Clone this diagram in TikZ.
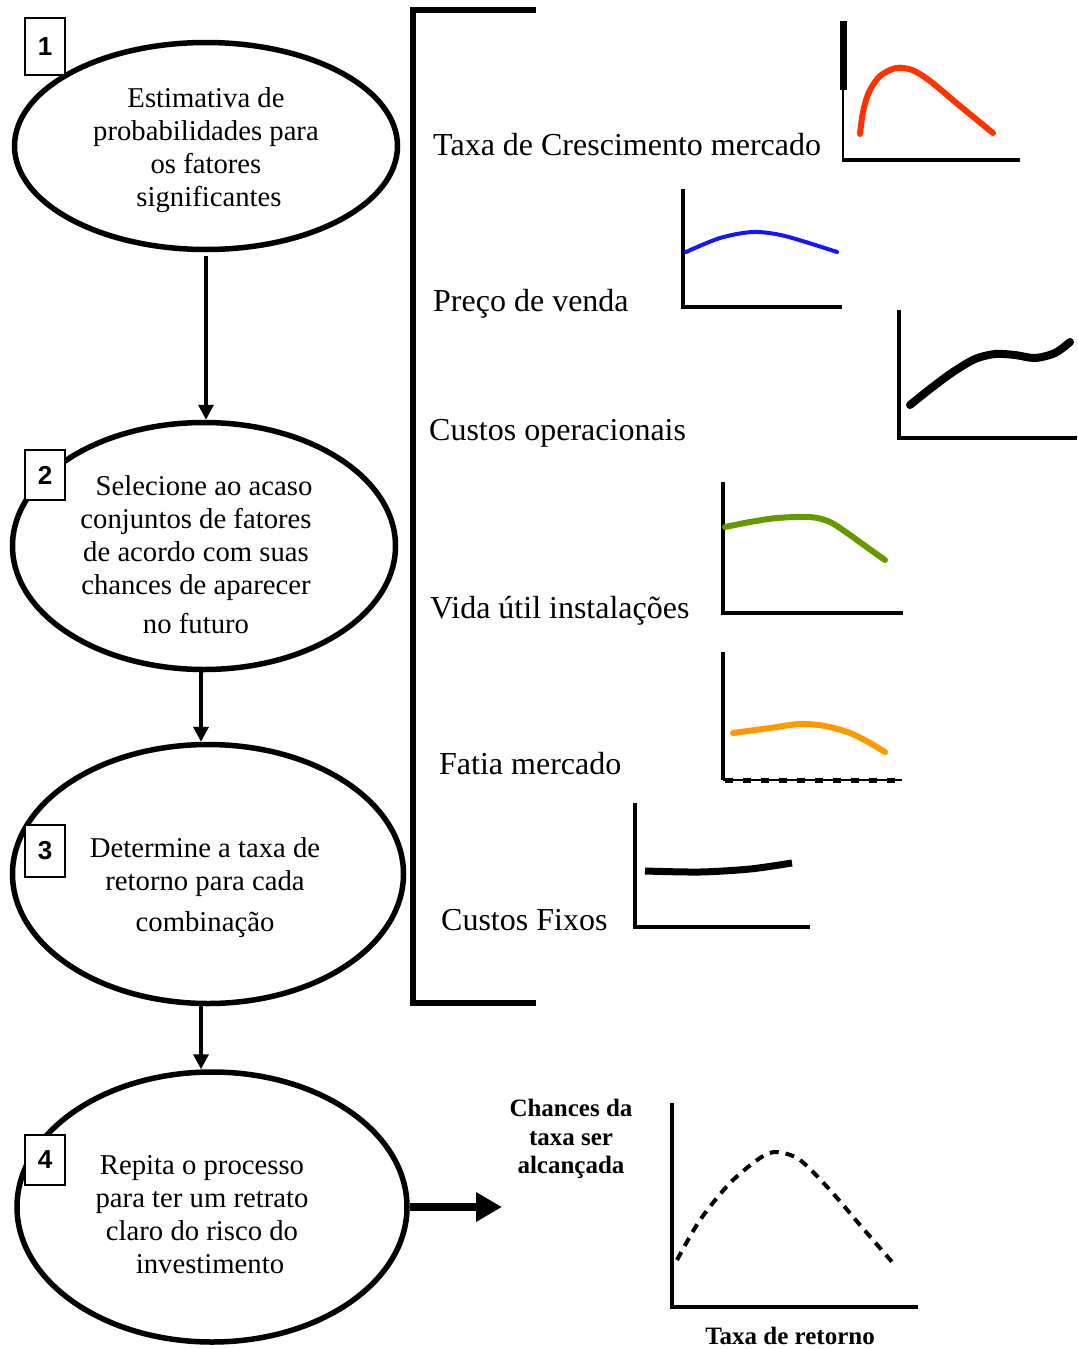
\documentclass[tikz,border=0pt]{standalone}
\usepackage{fontspec}
\setmainfont{Liberation Serif}
\newfontfamily\numfont{Liberation Sans}
\usetikzlibrary{shapes.geometric,arrows.meta}

\definecolor{redc}{RGB}{255,51,0}
\definecolor{bluec}{RGB}{20,20,255}
\definecolor{greenc}{RGB}{102,153,0}
\definecolor{orangec}{RGB}{255,153,0}

\begin{document}
\begin{tikzpicture}[x=1pt,y=-1pt,
  stage/.style={draw, ellipse, line width=5.5pt, inner sep=0pt},
  stagetext/.style={align=center, inner sep=0pt, font=\fontsize{28.7}{33}\selectfont},
  numbox/.style={draw, fill=white, line width=2pt, minimum width=40pt, inner sep=0pt,
                 font=\numfont\bfseries\fontsize{26}{26}\selectfont},
  flow/.style={line width=3.5pt, -{Triangle[length=15pt,width=15pt]}},
  bigflow/.style={line width=8pt, -{Triangle[length=26pt,width=28pt]}},
  factor/.style={anchor=base west, inner sep=0pt, font=\fontsize{32}{36}\selectfont},
  chartaxis/.style={line width=4pt},
  trend/.style={line width=6pt, line cap=round, line join=round},
  boldlabel/.style={inner sep=0pt, align=center, font=\bfseries\fontsize{25}{28.5}\selectfont}
]
\useasboundingbox (0,0) rectangle (1077,1349);

% stages of the simulation
\node[stage, minimum width=383, minimum height=207] (e1) at (206,146) {};
\node[stage, minimum width=383, minimum height=247] (e2) at (204,546) {};
\node[stage, minimum width=391, minimum height=259] (e3) at (208,874) {};
\node[stage, minimum width=390, minimum height=270] (e4) at (212,1207) {};

\node[stagetext] (t1) at (206,150) {Estimativa de\hspace{12pt}\\probabilidades para\\os fatores\hspace{6pt}\\\hspace{6pt}significantes};
\node[stagetext] (t2) at (196,555) {\hspace{16pt}Selecione ao acaso\\conjuntos de fatores\\de acordo com suas\\chances de aparecer\\[6pt]no futuro};
\node[stagetext] (t3) at (205,888) {Determine a taxa de\\retorno para cada\\[8pt]combinação};
\node[stagetext] (t4) at (202,1215) {Repita o processo\hspace{10pt}\\para ter um retrato\\claro do risco do\\\hspace{16pt}investimento};

% step numbers
\node[numbox, minimum height=57] (n1) at (45,46.5) {1};
\node[numbox, minimum height=50] (n2) at (45,475) {2};
\node[numbox, minimum height=52] (n3) at (45,851) {3};
\node[numbox, minimum height=50] (n4) at (45,1160) {4};

% flow between the stages
\draw[flow] ([yshift=-4pt]e1.south) -- (e1.south |- e2.north);
\draw[flow] ([xshift=-3pt]e2.south) -- ([xshift=-3pt]e2.south |- e3.north);
\draw[flow] ([xshift=-7pt]e3.south) -- ([xshift=-7pt]e3.south |- e4.north);
\coordinate (res) at (502,1207);
\draw[bigflow] (e4.east) -- (res);

% bracket grouping the factors
\draw[line width=6pt] (536,10) -- (413,10) -- (413,1003) -- (536,1003);

% factor names
\node[factor] (f1) at (433,155) {Taxa de Crescimento mercado};
\node[factor] (f2) at (433,311) {Preço de venda};
\node[factor] (f3) at (429,440) {Custos operacionais};
\node[factor] (f4) at (430,618) {Vida útil instalações};
\node[factor] (f5) at (439,774) {Fatia mercado};
\node[factor] (f6) at (441,930) {Custos Fixos};

% market growth
\draw[line width=7pt] (843,21) -- (843,90);
\draw[line width=2.5pt] (843,90) -- (843,160);
\draw[chartaxis] (841.5,160) -- (1020,160);
\draw[trend, redc] plot[smooth] coordinates {(860,134) (863,112) (869,92) (880,76) (896,68) (912,70) (930,81) (960,106) (993,133)};

% selling price
\draw[chartaxis] (683,189) -- (683,307) -- (842,307);
\draw[trend, bluec, line width=4pt] plot[smooth] coordinates {(686,252) (720,238) (753,232) (785,236) (837,252)};

% operating costs
\draw[chartaxis] (899,310) -- (899,438) -- (1077,438);
\draw[trend, black, line width=8pt] plot[smooth] coordinates {(910,405) (930,389) (953,372) (975,359) (995,354) (1015,355) (1035,358) (1055,353) (1070,342)};

% useful life
\draw[chartaxis] (723,482) -- (723,613) -- (903,613);
\draw[trend, greenc] plot[smooth] coordinates {(725,527) (750,522) (777,518) (810,517) (830,522) (850,535) (868,548) (885,560)};

% market share
\draw[chartaxis] (723,652) -- (723,780);
\draw[line width=2pt] (723,780) -- (902,780);
\draw[line width=5pt, dash pattern=on 8pt off 10pt] (725,780) -- (902,780);
\draw[trend, orangec] plot[smooth] coordinates {(733,733) (770,728) (800,724) (825,726) (850,733) (870,743) (885,752)};

% fixed costs
\draw[chartaxis] (635,803) -- (635,927) -- (810,927);
\draw[trend, black, line width=7pt, line cap=butt] plot[smooth] coordinates {(645,871) (700,872) (750,869) (792,863)};

% resulting distribution
\draw[chartaxis] (672,1103) -- (672,1307) -- (918,1307);
\draw[line width=4pt, dash pattern=on 9pt off 7pt] plot[smooth] coordinates {(677,1260) (700,1220) (730,1183) (760,1158) (777,1152) (800,1160) (830,1190) (860,1225) (893,1263)};
\node[boldlabel] (ylab) at (571,1139) {Chances da\\taxa ser\\alcançada};
\node[boldlabel] (xlab) at (790,1336) {Taxa de retorno};
\end{tikzpicture}
\end{document}
